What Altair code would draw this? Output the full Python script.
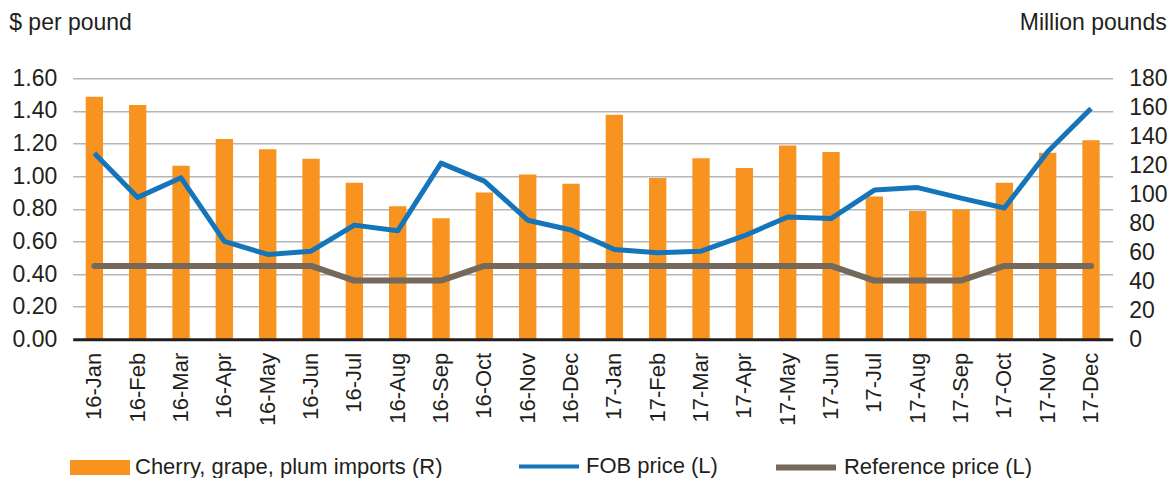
import altair as alt
import pandas as pd

months = ["16-Jan", "16-Feb", "16-Mar", "16-Apr", "16-May", "16-Jun",
          "16-Jul", "16-Aug", "16-Sep", "16-Oct", "16-Nov", "16-Dec",
          "17-Jan", "17-Feb", "17-Mar", "17-Apr", "17-May", "17-Jun",
          "17-Jul", "17-Aug", "17-Sep", "17-Oct", "17-Nov", "17-Dec"]
imports = [167.3, 161.6, 119.7, 138.1, 131.0, 124.5, 107.9, 91.8, 83.5, 101.3, 113.7, 107.2,
           154.9, 111.2, 124.8, 118.1, 133.7, 129.1, 98.5, 88.4, 89.6, 107.9, 128.6, 137.2]
fob = [1.14, 0.87, 0.99, 0.60, 0.52, 0.54, 0.70, 0.665, 1.08, 0.97, 0.73, 0.67,
       0.55, 0.53, 0.54, 0.635, 0.75, 0.74, 0.915, 0.93, 0.865, 0.805, 1.15, 1.415]
ref = [0.45, 0.45, 0.45, 0.45, 0.45, 0.45, 0.36, 0.36, 0.36, 0.45, 0.45, 0.45,
       0.45, 0.45, 0.45, 0.45, 0.45, 0.45, 0.36, 0.36, 0.36, 0.45, 0.45, 0.45]

left_ticks = [0, 0.2, 0.4, 0.6, 0.8, 1.0, 1.2, 1.4, 1.6]
right_ticks = [0, 20, 40, 60, 80, 100, 120, 140, 160, 180]

S_IMP = "Cherry, grape, plum imports (R)"
S_FOB = "FOB price (L)"
S_REF = "Reference price (L)"

df = pd.DataFrame({"month": months, "imports": imports, "fob": fob, "ref": ref})
df["s_imp"] = S_IMP
df["s_fob"] = S_FOB
df["s_ref"] = S_REF

FONT = "Liberation Sans"
TXT = "#231f20"
ORANGE = "#f7931e"
BLUE = "#1575bb"
GRAY = "#75695b"
GRID = "#b5b5b5"

x_enc = alt.X(
    "month:N", sort=months, title=None,
    scale=alt.Scale(paddingInner=0.6, paddingOuter=0.3),
    axis=alt.Axis(labelAngle=-90, labelFontSize=22, labelFont=FONT, labelColor=TXT,
                  labelPadding=13, ticks=False, domainColor=TXT, domainWidth=3,
                  grid=False, zindex=1, labelAlign="right", labelBaseline="middle"),
)

def legend(x, y, sym, sw):
    return alt.Legend(title=None, orient="none", legendX=x, legendY=y,
                      symbolType=sym, symbolSize=3600, symbolStrokeWidth=sw,
                      labelFontSize=22, labelFont=FONT, labelColor=TXT,
                      labelLimit=500, padding=0, labelOffset=5)

bars = alt.Chart(df).mark_bar().encode(
    x=x_enc,
    y=alt.Y("imports:Q",
            scale=alt.Scale(domain=[0, 180], nice=False),
            axis=alt.Axis(orient="right", values=right_ticks, title="Million pounds",
                          titleAngle=0, titleX=53.5, titleY=-49, titleAlign="right",
                          titleBaseline="alphabetic", titleFontSize=23, titleFont=FONT,
                          titleFontWeight="normal", titleColor=TXT,
                          labelFontSize=23, labelFont=FONT, labelColor=TXT,
                          labelPadding=16, ticks=False, domain=False, grid=False)),
    color=alt.Color("s_imp:N", scale=alt.Scale(domain=[S_IMP], range=[ORANGE]),
                    legend=legend(-2.7, 359.2, "M-1,-0.25H1V0.25H-1Z", 0)),
)

ref_line = alt.Chart(df).mark_line(strokeWidth=6, strokeCap="round", strokeJoin="round").encode(
    x=x_enc,
    y=alt.Y("ref:Q", scale=alt.Scale(domain=[0, 1.6], nice=False), axis=None),
    color=alt.Color("s_ref:N", scale=alt.Scale(domain=[S_REF], range=[GRAY]),
                    legend=legend(700.3, 356.2, "stroke", 6)),
)

fob_line = alt.Chart(df).mark_line(strokeWidth=5, strokeJoin="round").encode(
    x=x_enc,
    y=alt.Y("fob:Q",
            scale=alt.Scale(domain=[0, 1.6], nice=False),
            axis=alt.Axis(orient="left", values=left_ticks, format=".2f",
                          title="$ per pound", titleAngle=0, titleX=-64, titleY=-49,
                          titleAlign="left", titleBaseline="alphabetic",
                          titleFontSize=23, titleFont=FONT, titleFontWeight="normal",
                          titleColor=TXT, labelFontSize=23, labelFont=FONT,
                          labelColor=TXT, labelPadding=16, ticks=False, domain=False,
                          grid=True, gridColor=GRID, gridWidth=1.5)),
    color=alt.Color("s_fob:N", scale=alt.Scale(domain=[S_FOB], range=[BLUE]),
                    legend=legend(444.3, 356.2, "stroke", 4)),
)

chart = alt.layer(bars, ref_line, fob_line).resolve_scale(
    y="independent", color="independent"
).properties(
    width=1040, height=261,
    autosize=alt.AutoSizeParams(type="none"),
    padding={"left": 64.7, "top": 70.3, "right": 55, "bottom": 139},
    background="white",
).configure_view(stroke=None)

chart.save("out.html", embed_options={"renderer": "svg", "actions": False})
